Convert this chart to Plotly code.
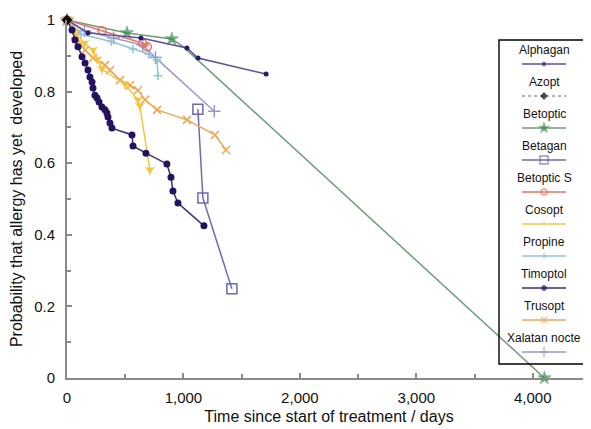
import plotly.graph_objects as go

# ---------------- data ----------------
alphagan_x = [0, 180, 635, 1030, 1125, 1710]
alphagan_y = [1.0, 0.964, 0.95, 0.922, 0.894, 0.849]

azopt_x = [0]
azopt_y = [1.0]

betoptic_x = [0, 515, 900, 1000, 4100]
betoptic_y = [1.0, 0.964, 0.947, 0.925, 0.0]

betagan_x = [1124, 1167, 1416]
betagan_y = [0.751, 0.503, 0.249]

betopticS_x = [0, 300, 650, 690]
betopticS_y = [1.0, 0.97, 0.935, 0.925]

cosopt_x = [0, 60, 150, 223, 260, 300, 500, 609, 625, 712]
cosopt_y = [1.0, 0.97, 0.935, 0.916, 0.89, 0.863, 0.82, 0.777, 0.76, 0.581]

propine_x = [0, 120, 380, 566, 700, 773, 781]
propine_y = [1.0, 0.96, 0.94, 0.919, 0.905, 0.888, 0.844]

timoptol_x = [0, 43, 69, 94, 129, 155, 180, 197, 215, 223, 240, 258, 275, 300,
              326, 343, 352, 369, 386, 558, 567, 678, 858, 893, 910, 953, 1176]
timoptol_y = [1.0, 0.972, 0.944, 0.925, 0.897, 0.88, 0.86, 0.841, 0.827, 0.81,
              0.79, 0.782, 0.771, 0.757, 0.749, 0.74, 0.729, 0.712, 0.698,
              0.679, 0.648, 0.628, 0.598, 0.561, 0.522, 0.489, 0.425]

trusopt_x = [0, 69, 155, 223, 326, 369, 455, 541, 609, 670, 773, 1030, 1270, 1365]
trusopt_y = [1.0, 0.958, 0.916, 0.894, 0.874, 0.86, 0.832, 0.818, 0.804, 0.777,
             0.749, 0.721, 0.679, 0.637]

xalatan_x = [0, 150, 400, 650, 760, 1265]
xalatan_y = [1.0, 0.97, 0.95, 0.93, 0.895, 0.745]

x_tickvals = [0, 1000, 2000, 3000, 4000]
x_ticktext = ["0", "1,000", "2,000", "3,000", "4,000"]
y_tickvals = [0, 0.2, 0.4, 0.6, 0.8, 1.0]
y_ticktext = ["0", "0.2", "0.4", "0.6", "0.8", "1"]

series_names = ["Alphagan", "Azopt", "Betoptic", "Betagan", "Betoptic S",
                "Cosopt", "Propine", "Timoptol", "Trusopt", "Xalatan nocte"]

# ---------------- styles ----------------
styles = {
    "Alphagan": dict(line=dict(color="#5b4f9e", width=1.5),
                     marker=dict(symbol="circle", size=5, color="#2b1a6b")),
    "Azopt": dict(line=dict(color="#999999", width=1.5, dash="dot"),
                  marker=dict(symbol="diamond", size=8, color="#000000")),
    "Betoptic": dict(line=dict(color="#6f9c78", width=1.5),
                     marker=dict(symbol="star", size=10, color="#1f8a3a")),
    "Betagan": dict(line=dict(color="#6a6ab4", width=1.5),
                    marker=dict(symbol="square-open", size=10, color="#6a6ab4",
                                line=dict(width=1.5))),
    "Betoptic S": dict(line=dict(color="#e8735e", width=1.5),
                       marker=dict(symbol="circle-open", size=8, color="#e8735e",
                                   line=dict(width=1.5))),
    "Cosopt": dict(line=dict(color="#f4c63e", width=1.5),
                   marker=dict(symbol="star-triangle-down", size=8, color="#f4c63e")),
    "Propine": dict(line=dict(color="#8cc6d6", width=1.5),
                    marker=dict(symbol="cross-thin-open", size=6, color="#8cc6d6",
                                line=dict(width=1.5))),
    "Timoptol": dict(line=dict(color="#3b2d7a", width=1.5),
                     marker=dict(symbol="circle", size=7, color="#22135c")),
    "Trusopt": dict(line=dict(color="#f0a552", width=1.5),
                    marker=dict(symbol="x-thin-open", size=8, color="#f0a552",
                                line=dict(width=1.5))),
    "Xalatan nocte": dict(line=dict(color="#9898cc", width=1.5),
                          marker=dict(symbol="cross-thin-open", size=9, color="#9898cc",
                                      line=dict(width=1.5))),
}
# Betoptic: the bend at ~1000 days carries no marker in the original
betoptic_marker_sizes = [10, 10, 10, 0, 10]

data = {
    "Alphagan": (alphagan_x, alphagan_y),
    "Azopt": (azopt_x, azopt_y),
    "Betoptic": (betoptic_x, betoptic_y),
    "Betagan": (betagan_x, betagan_y),
    "Betoptic S": (betopticS_x, betopticS_y),
    "Cosopt": (cosopt_x, cosopt_y),
    "Propine": (propine_x, propine_y),
    "Timoptol": (timoptol_x, timoptol_y),
    "Trusopt": (trusopt_x, trusopt_y),
    "Xalatan nocte": (xalatan_x, xalatan_y),
}

# page body has an 8px margin: shrink figure so it fits the 591x429 window
OFF = 8
W, H = 591 - OFF, 429 - OFF
L, R, T, B = 67 - OFF, 0, 20 - OFF, 51
PW, PH = W - L - R, H - T - B

fig = go.Figure()

draw_order = ["Betoptic", "Xalatan nocte", "Betagan", "Propine", "Betoptic S",
              "Alphagan", "Trusopt", "Cosopt", "Timoptol", "Azopt"]
for name in draw_order:
    xs, ys = data[name]
    st = styles[name]
    mk = dict(st["marker"])
    if name == "Betoptic":
        mk["size"] = betoptic_marker_sizes
    fig.add_trace(go.Scatter(x=xs, y=ys, mode="lines+markers", name=name,
                             line=st["line"], marker=mk,
                             cliponaxis=False, showlegend=False))

# ---------------- custom legend (text above symbol) ----------------
def px_to_paper(px, py):
    # px, py are window pixel positions
    return (px - OFF - L) / PW, (H - B - (py - OFF)) / PH

box_l, box_r, box_t, box_b = 499, 589, 40, 364
x0, y0 = px_to_paper(box_l, box_b)
x1, y1 = px_to_paper(box_r, box_t)
shapes = [dict(type="rect", xref="paper", yref="paper", x0=x0, y0=y0, x1=x1, y1=y1,
               line=dict(color="#000000", width=1.4), fillcolor="rgba(0,0,0,0)",
               layer="above")]
annotations = []
first_text = 50
step = 32.0
cx = 544
for i, name in enumerate(series_names):
    ty = first_text + i * step
    sy = ty + 14
    xa, ya = px_to_paper(cx, ty)
    annotations.append(dict(x=xa, y=ya, xref="paper", yref="paper", text=name,
                            showarrow=False, xanchor="center", yanchor="middle",
                            font=dict(family="Liberation Sans, Arial", size=12,
                                      color="#111111")))
    st = styles[name]
    lx0, lyy = px_to_paper(cx - 22, sy)
    lx1, _ = px_to_paper(cx + 22, sy)
    lm, _ = px_to_paper(cx, sy)
    msize = max(4, st["marker"]["size"] - 2)
    fig.add_trace(go.Scatter(x=[lx0, lm, lx1], y=[lyy, lyy, lyy], xaxis="x2", yaxis="y2",
                             mode="lines+markers", line=st["line"],
                             marker=dict(st["marker"], size=[0, msize, 0]),
                             showlegend=False, cliponaxis=False, hoverinfo="skip"))

axis_font = dict(family="Liberation Sans, Arial", size=15, color="#111111")
title_font = dict(family="Liberation Sans, Arial", size=16, color="#111111")
fig.update_layout(
    width=W, height=H,
    margin=dict(l=L, r=R, t=T, b=B, pad=0),
    paper_bgcolor="white", plot_bgcolor="white",
    showlegend=False,
    font=axis_font,
    xaxis=dict(range=[0, 4500], showgrid=False, zeroline=False, automargin=False,
               showline=True, linecolor="#8a8a8a", linewidth=2,
               ticks="inside", ticklen=5, tickwidth=1.5, tickcolor="#8a8a8a",
               tickvals=x_tickvals, ticktext=x_ticktext, ticklabelstandoff=5,
               tickfont=axis_font,
               minor=dict(ticks="inside", dtick=500, ticklen=4, tickwidth=1.5,
                          tickcolor="#8a8a8a", showgrid=False),
               title=dict(text="Time since start of treatment / days", standoff=6,
                          font=title_font)),
    yaxis=dict(range=[0, 1.0], showgrid=False, zeroline=False, automargin=False,
               showline=True, linecolor="#8a8a8a", linewidth=2,
               ticks="inside", ticklen=5, tickwidth=1.5, tickcolor="#8a8a8a",
               tickvals=y_tickvals, ticktext=y_ticktext, ticklabelstandoff=7,
               tickfont=axis_font,
               minor=dict(ticks="inside", dtick=0.1, ticklen=4, tickwidth=1.5,
                          tickcolor="#8a8a8a", showgrid=False),
               title=dict(text="Probability that allergy has yet  developed", standoff=9,
                          font=title_font)),
    xaxis2=dict(range=[0, 1], overlaying="x", visible=False, fixedrange=True),
    yaxis2=dict(range=[0, 1], overlaying="y", visible=False, fixedrange=True),
    shapes=shapes,
    annotations=annotations,
)

fig.write_html("out.html")
